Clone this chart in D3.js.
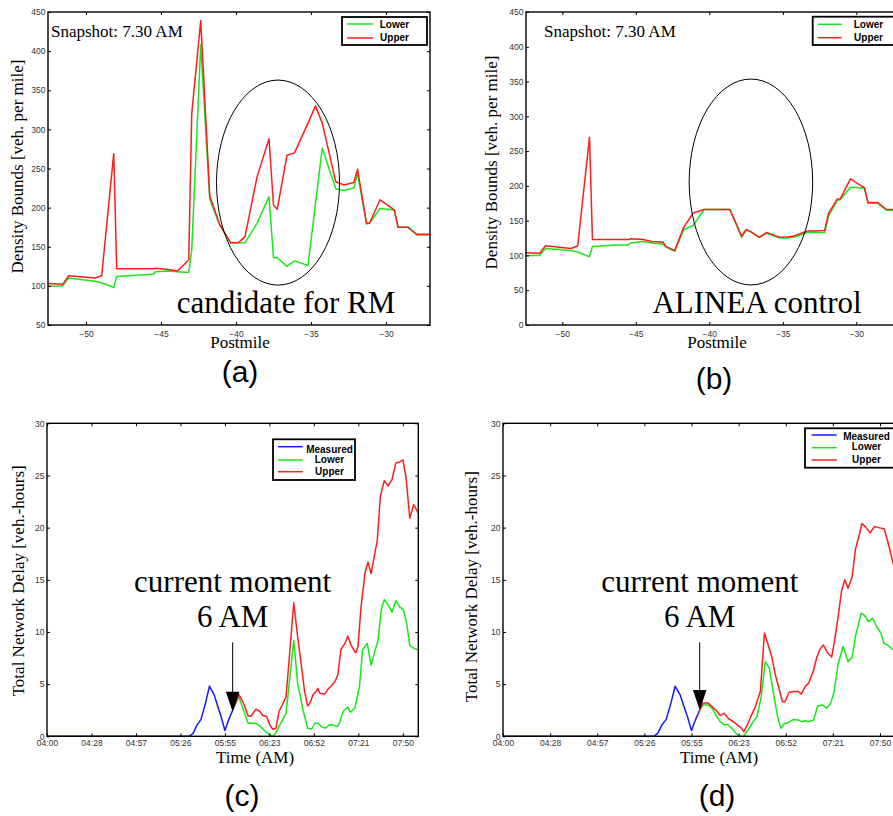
<!DOCTYPE html>
<html>
<head>
<meta charset="utf-8">
<script src="https://cdn.jsdelivr.net/npm/d3@7"></script>
<style>
  html, body { margin: 0; padding: 0; background: #fff; }
  svg { display: block; }
</style>
</head>
<body>
<svg id="chart" width="893" height="816"></svg>
<script>
// ---- data: density bounds (panels a, b) ----
const postmiles = [-52.5, -51.55, -51.15, -49.4, -48.95, -48.15, -47.95, -46.3, -45.5, -45.35,
  -44.5, -43.9, -43.15, -42.95, -42.35, -41.75, -41.1, -40.35, -39.85, -39.4,
  -38.6, -37.8, -37.5, -37.25, -36.6, -36.1, -35.2, -34.7, -34.25, -33.35,
  -32.8, -32.15, -31.9, -31.3, -31.1, -30.4, -29.45, -29.2, -28.55, -27.95, -27.0];

const upperA = [103, 102, 113, 110, 113, 269, 122, 122, 122, 122.5,
  121, 119, 133, 320, 439, 215, 179, 155, 155, 163,
  239, 288, 203, 198, 267, 270, 308, 330, 308, 233,
  229, 232, 249, 180, 180, 210, 197, 175, 175, 166, 166];
const lowerA = [100, 100, 110, 106, 104, 98, 112, 114, 115, 118,
  119, 118, 117, 146, 408, 211, 178, 155, 155, 155,
  180, 214, 136, 136, 125, 132, 126, 205, 276, 224,
  222, 225, 244, 179, 180, 199, 197, 175, 175, 165, 165];

const upperB = [104, 103, 114, 110, 114, 270, 123, 123, 123, 124,
  123, 120, 119, 113, 107, 140, 161, 166, 166, 166,
  166, 128, 137, 135, 126, 133, 126, 126.5, 128, 135,
  135, 136, 160, 181, 181, 210, 197, 176, 176, 166, 166];
const lowerB = [100, 100, 110, 107, 105, 98, 113, 115, 115, 118,
  120, 118, 116, 112, 106, 137, 143, 166, 166, 166,
  166, 126, 136, 135, 126, 132, 125, 125, 126, 133,
  133, 133, 156, 179, 180, 198, 197, 175, 175, 165, 165];

const postmileTicks = [-50, -45, -40, -35, -30];
const densityTicksA = [50, 100, 150, 200, 250, 300, 350, 400, 450];
const densityTicksB = [0, 50, 100, 150, 200, 250, 300, 350, 400, 450];

// ---- data: total network delay (panels c, d), minutes after 04:00 ----
const measuredTime = [0, 92, 94.5, 97, 99.5, 102.5, 105, 108, 110.5, 112.5, 115, 117.5, 120];
const measuredDelay = [0, 0, 0.3, 1.1, 1.6, 3.2, 4.8, 4.0, 2.8, 1.9, 0.55, 1.6, 2.5];

const upperTimeC = [120, 124, 127, 130, 132, 135, 137.5, 139.5, 142, 144,
  146, 148, 150, 152, 154.5, 156, 159.5, 162, 164.5, 166.5,
  168.5, 170, 172, 174, 175, 176.5, 179.5, 181.5, 183.5, 186,
  188, 190, 192.5, 194.5, 196.5, 199.5, 201, 203, 205.5, 207.5,
  209.5, 211.5, 213.5, 215.5, 218, 220.5, 223, 225.5, 228, 230,
  232, 234.5, 237, 240];
const upperDelayC = [2.5, 4.0, 3.2, 1.95, 1.95, 2.6, 2.4, 2.0, 1.9, 1.1,
  0.67, 0.77, 2.4, 3.0, 3.8, 6.4, 12.8, 9.55, 6.7, 4.3,
  2.9, 3.2, 4.0, 4.3, 4.6, 4.1, 4.05, 4.5, 4.8, 5.2,
  5.9, 8.3, 8.9, 9.6, 8.75, 8.0, 8.6, 12.4, 15.6, 16.7,
  15.6, 17.2, 18.8, 23.0, 24.5, 24.0, 24.6, 26.2, 26.3, 26.5,
  24.9, 20.9, 22.2, 21.4];
const lowerTimeC = [120, 124, 127, 130, 132, 135, 137.5, 140.5, 144, 146,
  148, 150.5, 154.5, 159.5, 162, 165.5, 168.5, 171, 173, 175,
  177.5, 180, 182.5, 185, 187.5, 189, 191.5, 194.5, 196, 199,
  202, 204, 207, 209.5, 211.5, 214, 216, 218, 220.5, 223,
  225.5, 228, 230.5, 232.5, 234.5, 237.5, 240];
const lowerDelayC = [2.5, 3.8, 2.5, 1.25, 1.25, 1.25, 1.0, 0.55, 0.13, 0,
  0.35, 1.1, 2.2, 9.2, 5.1, 2.5, 0.77, 0.7, 1.25, 1.25,
  0.93, 0.77, 1.1, 1.1, 0.93, 1.25, 2.4, 2.8, 2.3, 2.7,
  4.8, 8.3, 8.9, 6.8, 7.95, 9.2, 12.1, 13.1, 12.6, 11.9,
  13.0, 12.4, 12.1, 10.8, 8.7, 8.4, 8.3];

const upperTimeD = [120, 122, 125, 127.5, 130.5, 132.5, 135, 137.5, 140.5, 143,
  145.5, 147, 149.5, 151.5, 154, 157, 159.5, 161.5, 164, 166,
  168, 170.5, 172, 174.5, 177, 180, 182, 184.5, 186.5, 189.5,
  191.5, 193.5, 195.5, 198, 200.5, 202, 204.5, 206.5, 208.5, 210.5,
  213, 215, 217, 219, 221.5, 224, 226.5, 229, 232.5, 235,
  238, 240];
const upperDelayD = [2.5, 3.2, 3.2, 2.85, 2.4, 2.0, 2.2, 1.7, 1.4, 1.1,
  0.77, 0.45, 1.25, 2.0, 2.85, 4.3, 9.9, 8.9, 7.6, 6.0,
  4.8, 3.3, 3.3, 4.2, 4.3, 4.3, 4.05, 4.8, 5.1, 6.35,
  7.6, 8.4, 8.75, 8.0, 7.6, 8.9, 11.5, 13.9, 15.0, 14.2,
  15.3, 17.9, 19.1, 20.4, 20.0, 19.5, 20.1, 20.0, 19.9, 18.5,
  16.6, 15.5];
const lowerTimeD = [120, 122, 125, 127.5, 130, 132.5, 135, 137.5, 140.5, 142.5,
  144.5, 147, 149.5, 152, 155, 157.5, 160, 162.5, 165, 167.5,
  169.5, 171.5, 174, 177, 180, 182, 184.5, 186.5, 189.5, 192,
  195, 197.5, 200, 202, 204.5, 207.5, 210.5, 213, 215, 218.5,
  220.5, 223, 225.5, 228, 230.5, 232.5, 234.5, 238, 240];
const lowerDelayD = [2.5, 3.0, 3.0, 2.7, 2.0, 1.4, 1.1, 1.1, 0.6, 0.22,
  0, 0.03, 0.6, 1.25, 1.9, 3.8, 7.15, 6.5, 4.1, 1.9,
  0.77, 1.2, 1.3, 1.6, 1.56, 1.4, 1.5, 1.4, 1.56, 2.9,
  3.0, 2.7, 3.2, 4.3, 7.0, 8.6, 7.15, 7.6, 9.55, 11.8,
  11.6, 11.0, 11.3, 10.5, 9.9, 8.9, 8.75, 8.3, 8.0];

const timeTicks = [0, 28.75, 57.5, 86.25, 115, 143.75, 172.5, 201.25, 230];
const timeTickLabels = ["04:00", "04:28", "04:57", "05:26", "05:55", "06:23", "06:52", "07:21", "07:50"];
const delayTicks = [0, 5, 10, 15, 20, 25, 30];

const GREEN = "#18e818";
const RED = "#ff1c1c";
const BLUE = "#1818ff";
const SERIF = "'Liberation Serif', 'Times New Roman', serif";
const SANS = "'Liberation Sans', Arial, sans-serif";

const svg = d3.select("#chart");
svg.append("rect").attr("width", 893).attr("height", 816).attr("fill", "#fff");

function zip(xs, ys) {
  return xs.map((v, i) => ({ x: v, y: ys[i] }));
}

function drawPanel(p) {
  const x = d3.scaleLinear().domain(p.xDomain).range([p.left, p.right]);
  const y = d3.scaleLinear().domain(p.yDomain).range([p.bottom, p.top]);
  const g = svg.append("g");

  g.append("clipPath")
    .attr("id", p.id + "-clip")
    .append("rect")
    .attr("x", p.left)
    .attr("y", p.top)
    .attr("width", p.right - p.left)
    .attr("height", p.bottom - p.top);

  const line = d3.line().x((d) => x(d.x)).y((d) => y(d.y));

  const plot = g.append("g").attr("clip-path", `url(#${p.id}-clip)`);
  p.series.forEach((s) => {
    plot.append("path")
      .datum(zip(s.xs, s.ys))
      .attr("fill", "none")
      .attr("stroke", s.color)
      .attr("stroke-width", 1.5)
      .attr("stroke-linejoin", "round")
      .attr("d", line);
  });

  // axes, ticks pointing inward on all sides
  const fmt = p.xLabels ? (d, i) => p.xLabels[i] : d3.format("d");
  const xAxis = g.append("g")
    .attr("transform", `translate(0,${p.bottom})`)
    .call(d3.axisBottom(x).tickValues(p.xTicks).tickFormat(fmt).tickSize(-3).tickPadding(p.xPad));
  const yAxis = g.append("g")
    .attr("transform", `translate(${p.left},0)`)
    .call(d3.axisLeft(y).tickValues(p.yTicks).tickFormat(d3.format("d")).tickSize(-3).tickPadding(2.5));
  g.append("g")
    .attr("transform", `translate(0,${p.top})`)
    .call(d3.axisTop(x).tickValues(p.xTicks).tickFormat("").tickSize(-3));
  g.append("g")
    .attr("transform", `translate(${p.right},0)`)
    .call(d3.axisRight(y).tickValues(p.yTicks).tickFormat("").tickSize(-3));

  g.selectAll(".domain").remove();
  g.selectAll(".tick line").attr("stroke", "#000").attr("stroke-width", 1);
  [xAxis, yAxis].forEach((a) =>
    a.attr("font-family", SANS).attr("font-size", 8.5)
      .selectAll("text").attr("fill", "#333"));

  g.append("rect")
    .attr("x", p.left)
    .attr("y", p.top)
    .attr("width", p.right - p.left)
    .attr("height", p.bottom - p.top)
    .attr("fill", "none")
    .attr("stroke", "#000")
    .attr("stroke-width", 1.4);

  // axis titles
  g.append("text")
    .attr("x", p.xTitle.x)
    .attr("y", p.xTitle.y)
    .attr("text-anchor", "middle")
    .attr("font-family", SERIF)
    .attr("font-size", 17)
    .text(p.xTitle.text);
  g.append("text")
    .attr("transform", `translate(${p.yTitle.x},${p.yTitle.y}) rotate(-90)`)
    .attr("text-anchor", "middle")
    .attr("font-family", SERIF)
    .attr("font-size", 17)
    .text(p.yTitle.text);

  // legend
  const L = p.legend;
  const lg = g.append("g");
  lg.append("rect")
    .attr("x", L.x)
    .attr("y", L.y)
    .attr("width", L.w)
    .attr("height", L.h)
    .attr("fill", "#fff")
    .attr("stroke", "#000")
    .attr("stroke-width", 1.8);
  L.rows.forEach((r) => {
    lg.append("line")
      .attr("x1", L.x1)
      .attr("x2", L.x2)
      .attr("y1", r.lineY)
      .attr("y2", r.lineY)
      .attr("stroke", r.color)
      .attr("stroke-width", 1.5);
    lg.append("text")
      .attr("x", L.textX)
      .attr("y", r.textY)
      .attr("text-anchor", "middle")
      .attr("font-family", SANS)
      .attr("font-weight", "bold")
      .attr("font-size", 10)
      .text(r.label);
  });

  // panel letter
  svg.append("text")
    .attr("x", p.letter.x)
    .attr("y", p.letter.y)
    .attr("text-anchor", "middle")
    .attr("font-family", SANS)
    .attr("font-size", 30)
    .text(p.letter.text);

  return { g, x, y };
}

// ---- panel (a) ----
const pA = drawPanel({
  id: "pa", left: 48, top: 12, right: 430, bottom: 325,
  xDomain: [-52.53, -27.07], yDomain: [50, 450],
  xTicks: postmileTicks, yTicks: densityTicksA, xPad: 5.5,
  series: [
    { xs: postmiles, ys: lowerA, color: GREEN },
    { xs: postmiles, ys: upperA, color: RED },
  ],
  xTitle: { text: "Postmile", x: 240, y: 348 },
  yTitle: { text: "Density Bounds [veh. per mile]", x: 22.5, y: 166.5 },
  legend: {
    x: 342, y: 17, w: 85, h: 28, x1: 347, x2: 373, textX: 394.5,
    rows: [
      { label: "Lower", color: GREEN, lineY: 24, textY: 28.3 },
      { label: "Upper", color: RED, lineY: 38, textY: 40.6 },
    ],
  },
  letter: { text: "(a)", x: 240, y: 382 },
});

// ---- panel (b) ----
const pB = drawPanel({
  id: "pb", left: 526, top: 12, right: 900, bottom: 325,
  xDomain: [-52.47, -27.03], yDomain: [0, 450],
  xTicks: postmileTicks, yTicks: densityTicksB, xPad: 5.5,
  series: [
    { xs: postmiles, ys: lowerB, color: GREEN },
    { xs: postmiles, ys: upperB, color: RED },
  ],
  xTitle: { text: "Postmile", x: 717, y: 348 },
  yTitle: { text: "Density Bounds [veh. per mile]", x: 497.3, y: 162.5 },
  legend: {
    x: 812.7, y: 16.7, w: 85, h: 28.3, x1: 818, x2: 841.7, textX: 868.5,
    rows: [
      { label: "Lower", color: GREEN, lineY: 24.3, textY: 28.3 },
      { label: "Upper", color: RED, lineY: 37.7, textY: 41 },
    ],
  },
  letter: { text: "(b)", x: 714, y: 389 },
});

// ---- panel (c) ----
const pC = drawPanel({
  id: "pc", left: 47, top: 423.3, right: 418.3, bottom: 736.3,
  xDomain: [0, 240], yDomain: [0, 30],
  xTicks: timeTicks, xLabels: timeTickLabels, yTicks: delayTicks, xPad: 4,
  series: [
    { xs: measuredTime, ys: measuredDelay, color: BLUE },
    { xs: lowerTimeC, ys: lowerDelayC, color: GREEN },
    { xs: upperTimeC, ys: upperDelayC, color: RED },
  ],
  xTitle: { text: "Time (AM)", x: 255, y: 763 },
  yTitle: { text: "Total Network Delay [veh.-hours]", x: 23.5, y: 580.8 },
  legend: {
    x: 273, y: 439.3, w: 82, h: 40.7, x1: 278, x2: 302.7, textX: 329.5,
    rows: [
      { label: "Measured", color: BLUE, lineY: 446.7, textY: 452.7 },
      { label: "Lower", color: GREEN, lineY: 460, textY: 462.7 },
      { label: "Upper", color: RED, lineY: 471.7, textY: 474.6 },
    ],
  },
  letter: { text: "(c)", x: 242, y: 806 },
});

// ---- panel (d) ----
const pD = drawPanel({
  id: "pd", left: 503, top: 423.3, right: 896.4, bottom: 736.3,
  xDomain: [0, 240], yDomain: [0, 30],
  xTicks: timeTicks, xLabels: timeTickLabels, yTicks: delayTicks, xPad: 4,
  series: [
    { xs: measuredTime, ys: measuredDelay, color: BLUE },
    { xs: lowerTimeD, ys: lowerDelayD, color: GREEN },
    { xs: upperTimeD, ys: upperDelayD, color: RED },
  ],
  xTitle: { text: "Time (AM)", x: 719, y: 763 },
  yTitle: { text: "Total Network Delay [veh.-hours]", x: 476.5, y: 586.7 },
  legend: {
    x: 805, y: 428.3, w: 92, h: 39.4, x1: 811.7, x2: 836.7, textX: 866.5,
    rows: [
      { label: "Measured", color: BLUE, lineY: 435, textY: 440 },
      { label: "Lower", color: GREEN, lineY: 447.7, textY: 450 },
      { label: "Upper", color: RED, lineY: 460, textY: 463 },
    ],
  },
  letter: { text: "(d)", x: 717, y: 806 },
});

// ---- annotations on (a) and (b) ----
function annotateDensity(panel, o) {
  const { g, x, y } = panel;
  const cx = x(o.ellipse.pm), cy = y(o.ellipse.v);
  g.append("ellipse")
    .attr("cx", cx)
    .attr("cy", cy)
    .attr("rx", x(o.ellipse.pm + o.ellipse.dpm) - cx)
    .attr("ry", cy - y(o.ellipse.v + o.ellipse.dv))
    .attr("fill", "none")
    .attr("stroke", "#000")
    .attr("stroke-width", 1);
  g.append("text")
    .attr("x", o.snapX)
    .attr("y", 36.5)
    .attr("font-family", SERIF)
    .attr("font-size", 17)
    .text("Snapshot: 7.30 AM");
  g.append("text")
    .attr("x", o.noteX)
    .attr("y", 313)
    .attr("text-anchor", "middle")
    .attr("font-family", SERIF)
    .attr("font-size", 31)
    .text(o.note);
}
annotateDensity(pA, { ellipse: { pm: -37.2, v: 232, dpm: 4.1, dv: 131 }, snapX: 51, noteX: 286, note: "candidate for RM" });
annotateDensity(pB, { ellipse: { pm: -37.17, v: 205.6, dpm: 4.2, dv: 148 }, snapX: 544, noteX: 757, note: "ALINEA control" });

// ---- "current moment" annotations on (c) and (d) ----
const nowMinute = 120;
function annotateNow(panel, tipV) {
  const { g, x, y } = panel;
  const ax = x(nowMinute);
  g.append("text")
    .attr("x", ax)
    .attr("y", y(13.86))
    .attr("text-anchor", "middle")
    .attr("font-family", SERIF)
    .attr("font-size", 31)
    .text("current moment");
  g.append("text")
    .attr("x", ax)
    .attr("y", y(10.5))
    .attr("text-anchor", "middle")
    .attr("font-family", SERIF)
    .attr("font-size", 31)
    .text("6 AM");
  const tip = y(tipV);
  g.append("line")
    .attr("x1", ax)
    .attr("x2", ax)
    .attr("y1", y(9))
    .attr("y2", tip - 18)
    .attr("stroke", "#000")
    .attr("stroke-width", 1);
  g.append("path")
    .attr("d", `M${ax - 6.8},${tip - 20} L${ax + 6.8},${tip - 20} L${ax},${tip} Z`)
    .attr("fill", "#000");
}
annotateNow(pC, 2.36);
annotateNow(pD, 2.52);
</script>
</body>
</html>
